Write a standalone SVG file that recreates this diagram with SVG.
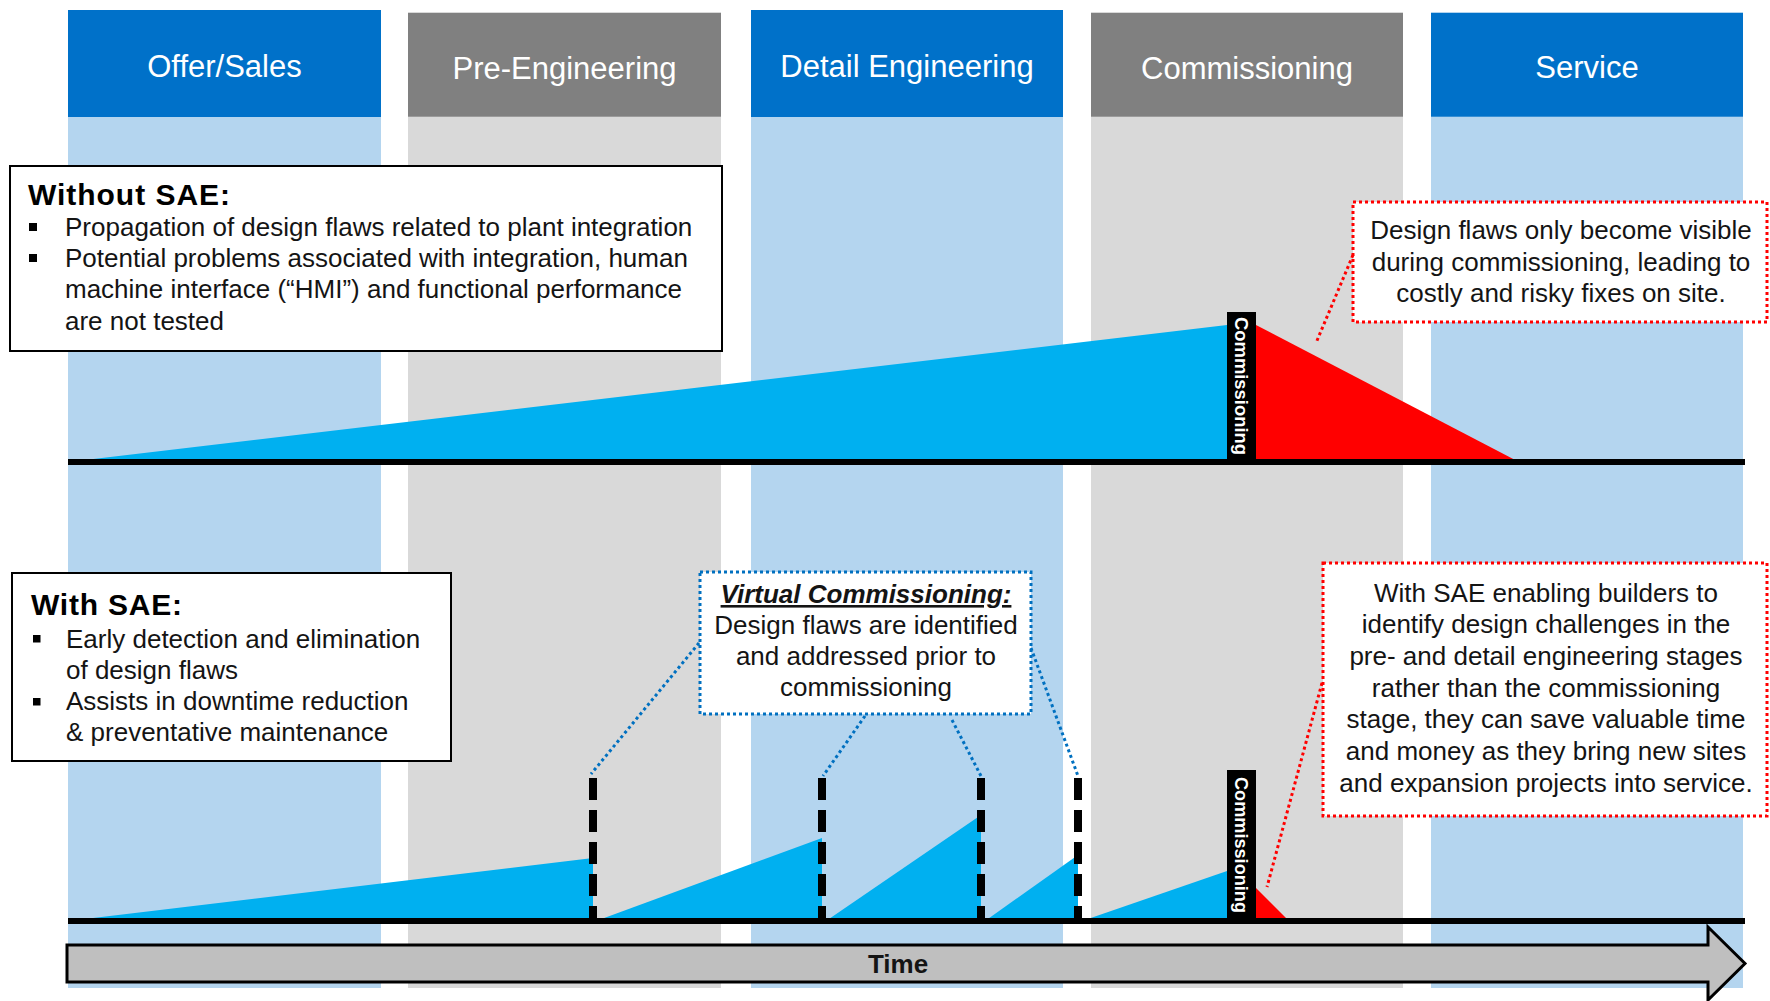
<svg xmlns="http://www.w3.org/2000/svg" width="1770" height="1001" viewBox="0 0 1770 1001">
<style>
  .hb{fill:#0071C9}
  .hg{fill:#808080}
  .bb{fill:#B4D5EF}
  .bg{fill:#D9D9D9}
  .ht{font-family:"Liberation Sans",Arial,sans-serif;font-size:31px;fill:#fff;text-anchor:middle}
  .t{font-family:"Liberation Sans",Arial,sans-serif;font-size:26px;fill:#141414}
  .c{text-anchor:middle}
  .ttl{font-weight:bold;font-size:30px;fill:#000}
  .box{fill:#fff;stroke:#000;stroke-width:2}
  .rbox{fill:#fff;stroke:#FF0000;stroke-width:3;stroke-dasharray:3 3}
  .bbox{fill:#fff;stroke:#0070C0;stroke-width:3;stroke-dasharray:3 3}
  .rdot{fill:none;stroke:#FF0000;stroke-width:3;stroke-dasharray:3 3}
  .bdot{fill:none;stroke:#0070C0;stroke-width:3;stroke-dasharray:3 3}
  .flaw{fill:#00B0F0}
  .fix{fill:#FF0000}
  .axis{stroke:#000;stroke-width:6}
  .gate{stroke:#000;stroke-width:8;stroke-dasharray:22 10}
  .bar{fill:#000}
  .bt{font-family:"Liberation Sans",Arial,sans-serif;font-weight:bold;font-size:18px;fill:#fff}
  .bul{fill:#000}
</style>

<g id="phase-offer-sales">
  <rect class="bb" x="68" y="116" width="313" height="872"/>
  <rect class="hb" x="68" y="10" width="313" height="107"/>
  <text class="ht" x="224.5" y="77">Offer/Sales</text>
</g>
<g id="phase-pre-engineering">
  <rect class="bg" x="408" y="116" width="313" height="872"/>
  <rect class="hg" x="408" y="12.7" width="313" height="104"/>
  <text class="ht" x="564.5" y="78.5">Pre-Engineering</text>
</g>
<g id="phase-detail-engineering">
  <rect class="bb" x="751" y="116" width="312" height="872"/>
  <rect class="hb" x="751" y="10" width="312" height="107"/>
  <text class="ht" x="907" y="77">Detail Engineering</text>
</g>
<g id="phase-commissioning">
  <rect class="bg" x="1091" y="116" width="312" height="872"/>
  <rect class="hg" x="1091" y="12.7" width="312" height="104"/>
  <text class="ht" x="1247" y="78.5">Commissioning</text>
</g>
<g id="phase-service">
  <rect class="bb" x="1431" y="116" width="312" height="872"/>
  <rect class="hb" x="1431" y="12.7" width="312" height="104"/>
  <text class="ht" x="1587" y="78">Service</text>
</g>

<g id="chart-without-sae">
  <polygon class="flaw" points="68,462 1227,325 1227,462"/>
  <polygon class="fix" points="1256,325 1519,462 1256,462"/>
  <line class="axis" x1="68" y1="462" x2="1745" y2="462"/>
  <g id="commissioning-marker-top">
    <rect class="bar" x="1227" y="312" width="29" height="150"/>
    <text class="bt" transform="translate(1235,317) rotate(90)" textLength="138" lengthAdjust="spacingAndGlyphs">Commissioning</text>
  </g>
</g>

<g id="chart-with-sae">
  <polygon class="flaw" points="68,921 593,858 593,921"/>
  <polygon class="flaw" points="596,921 822,838 822,921"/>
  <polygon class="flaw" points="826,921 981,815 981,921"/>
  <polygon class="flaw" points="985,921 1078,855 1078,921"/>
  <polygon class="flaw" points="1082,921 1227,871 1227,921"/>
  <polygon class="fix" points="1256,888 1289,921 1256,921"/>
  <line class="axis" x1="68" y1="921" x2="1745" y2="921"/>
  <line class="gate" x1="593" y1="778" x2="593" y2="918"/>
  <line class="gate" x1="822" y1="778" x2="822" y2="918"/>
  <line class="gate" x1="981" y1="778" x2="981" y2="918"/>
  <line class="gate" x1="1078" y1="778" x2="1078" y2="918"/>
  <g id="commissioning-marker-bottom">
    <rect class="bar" x="1227" y="770" width="29" height="151"/>
    <text class="bt" transform="translate(1235,777) rotate(90)" textLength="136" lengthAdjust="spacingAndGlyphs">Commissioning</text>
  </g>
</g>

<g id="box-without-sae">
  <rect class="box" x="10" y="166" width="712" height="185"/>
  <text class="t ttl" x="28" y="205" textLength="202" lengthAdjust="spacing">Without SAE:</text>
  <rect class="bul" x="29" y="223" width="8" height="8"/>
  <text class="t" x="65" y="236">Propagation of design flaws related to plant integration</text>
  <rect class="bul" x="29" y="254" width="8" height="8"/>
  <text class="t" x="65" y="267">Potential problems associated with integration, human</text>
  <text class="t" x="65" y="298">machine interface (“HMI”) and functional performance</text>
  <text class="t" x="65" y="330">are not tested</text>
</g>

<g id="box-with-sae">
  <rect class="box" x="12" y="573" width="439" height="188"/>
  <text class="t ttl" x="31" y="615" textLength="151" lengthAdjust="spacing">With SAE:</text>
  <rect class="bul" x="33" y="635" width="7.5" height="7.5"/>
  <text class="t" x="66" y="648">Early detection and elimination</text>
  <text class="t" x="66" y="679">of design flaws</text>
  <rect class="bul" x="33" y="698" width="7.5" height="7.5"/>
  <text class="t" x="66" y="710">Assists in downtime reduction</text>
  <text class="t" x="66" y="741">&amp; preventative maintenance</text>
</g>

<g id="box-design-flaws-visible">
  <rect class="rbox" x="1353" y="202" width="414" height="120"/>
  <text class="t c" x="1561" y="239">Design flaws only become visible</text>
  <text class="t c" x="1561" y="270.5">during commissioning, leading to</text>
  <text class="t c" x="1561" y="302">costly and risky fixes on site.</text>
</g>

<g id="box-virtual-commissioning">
  <rect class="bbox" x="700" y="572" width="331" height="142"/>
  <text class="t c" x="866" y="603" font-weight="bold" font-style="italic" text-decoration="underline">Virtual Commissioning:</text>
  <text class="t c" x="866" y="634">Design flaws are identified</text>
  <text class="t c" x="866" y="665">and addressed prior to</text>
  <text class="t c" x="866" y="696">commissioning</text>
</g>

<g id="box-sae-benefit">
  <rect class="rbox" x="1323" y="563" width="444" height="253"/>
  <text class="t c" x="1546" y="601.5">With SAE enabling builders to</text>
  <text class="t c" x="1546" y="633">identify design challenges in the</text>
  <text class="t c" x="1546" y="665">pre- and detail engineering stages</text>
  <text class="t c" x="1546" y="696.5">rather than the commissioning</text>
  <text class="t c" x="1546" y="728">stage, they can save valuable time</text>
  <text class="t c" x="1546" y="760">and money as they bring new sites</text>
  <text class="t c" x="1546" y="791.5">and expansion projects into service.</text>
</g>

<g id="connectors">
  <line class="rdot" x1="1353" y1="255" x2="1316" y2="343"/>
  <line class="rdot" x1="1322" y1="683" x2="1267" y2="887"/>
  <line class="bdot" x1="699" y1="643" x2="591" y2="774"/>
  <line class="bdot" x1="865" y1="716" x2="823" y2="776"/>
  <line class="bdot" x1="952" y1="720" x2="981" y2="776"/>
  <line class="bdot" x1="1031" y1="648" x2="1078" y2="776"/>
</g>

<g id="time-axis">
  <polygon points="67,945 1708,945 1708,927 1745,963.5 1708,1000 1708,982 67,982" fill="#BFBFBF" stroke="#000" stroke-width="3" stroke-linejoin="miter"/>
  <text class="t" x="898" y="973" font-weight="bold" font-size="28" text-anchor="middle" fill="#000">Time</text>
</g>
</svg>
